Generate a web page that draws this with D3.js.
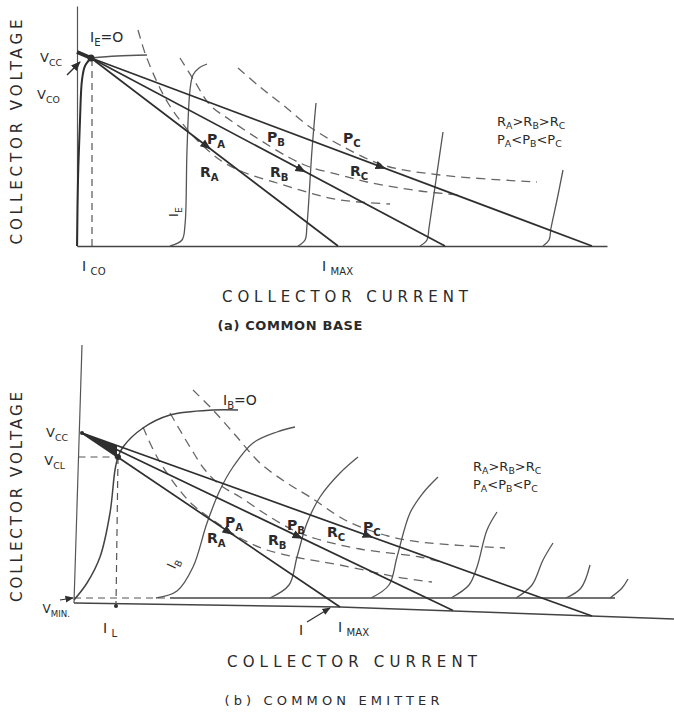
<!DOCTYPE html>
<html>
<head>
<meta charset="utf-8">
<script src="https://cdn.jsdelivr.net/npm/d3@7"></script>
<style>
  body { margin: 0; background: #fff; }
  svg { display: block; }
  text { font-family: "DejaVu Sans", sans-serif; fill: #2a2a2a; }
</style>
</head>
<body>
<svg id="chart" width="674" height="714"></svg>
<script>
// ---------- (a) common base : current / voltage in arbitrary units ----------
const aVcc = [0, 38.8]
const aKnee = [2.8, 37.6]
const aLoadEnds = [52.2, 73.6, 103]          // current at V = 0 for RA, RB, RC
const aIco = 3
const aIe0Curve = [[0, 0], [0.2, 13.2], [0.6, 25.2], [1, 33.2], [1.6, 36], [2.8, 37.6]]
const aIe0Top = [[2.8, 37.6], [8, 38], [14, 38.2]]
const aIeCurves = [
  [[18.6, 0], [21, 1.2], [21.6, 4.2], [22, 19.2], [22.6, 31.2], [23.2, 34.2], [24.4, 35.6], [26, 36.4]],
  [[44.2, 0], [45.6, 1.2], [46, 4.2], [47, 19.2], [47.8, 28.6]],
  [[68.6, 0], [70, 1.2], [70.4, 3.6], [71.8, 13.2], [73.2, 22.8]],
  [[93.2, 0], [94.4, 1.2], [94.8, 3.6], [96, 9.2], [97.2, 15.2]]
]
const aPowerCurves = [
  [[12.2, 43.2], [13.6, 38.6], [16, 32.8], [18.2, 28.6], [21, 24.6], [23.6, 21.6], [28.6, 17.2], [33.2, 14.8], [40, 12.6], [46.6, 10.6], [52.6, 9.2], [62.6, 8.4]],
  [[20.6, 37.6], [23.6, 32.8], [26.6, 28.2], [30.6, 25.2], [36.6, 21.2], [42.6, 17.6], [46.6, 15.8], [52.6, 14.2], [58, 12.8], [68.6, 11], [76.6, 10.2]],
  [[32.2, 35.6], [36.6, 31.8], [41.2, 28.2], [46.6, 23.8], [52.6, 20.2], [61.2, 16.2], [72.6, 14.2], [92, 12.8]]
]
const aArrowsAt = [25, 44, 60]               // current where the tangent marks sit

// ---------- (b) common emitter ----------
const bVcc = [1.6, 34]
const bVcl = [8.8, 29.2]
const bAxisTop = [1.6, 51.6]
const bBase = [[0, 0], [53.2, -0.8], [120, -3.2]]
const bVmin = 1
const bVminDashEnd = 19.2
const bVminEnd = 108.2
const bLoadEnds = [[53.2, -0.8], [75.8, -1.5], [103.6, -2.6]]
const bIL = [8.4, -0.6]
const bIb0Curve = [[0, 0.6], [2.6, 4], [5.2, 9.2], [7.2, 18], [8.2, 26.6], [8.8, 29.2], [9.8, 31.2], [13.8, 35], [19.2, 37.6], [27.8, 38.6], [32.8, 38.6]]
const bIbCurves = [
  [[16.4, 1], [20.6, 2.4], [23.8, 7.2], [26.6, 16], [29.2, 22.6], [31.8, 27.2], [35.8, 32], [40.6, 34.2], [44.2, 35.2]],
  [[39.2, 1], [43, 3.6], [44.6, 9.2], [46.6, 16], [49.2, 21.2], [53.2, 26], [56.8, 29.2]],
  [[59.4, 1], [63, 3.6], [64.6, 9.2], [67.2, 18], [69.8, 22], [72.8, 25.2]],
  [[75.4, 1], [79, 3.6], [80.6, 7.2], [82.6, 14.6], [84.6, 18.2]],
  [[88.4, 1], [91.6, 3.6], [93.8, 8.6], [95.8, 12]],
  [[98.4, 1], [101.4, 3], [103.2, 7.6]],
  [[107.2, 1], [109.6, 3], [110.8, 4.8]]
]
const bPowerCurves = [
  [[23.8, 42.6], [27.8, 38.6], [32.6, 33.2], [37.2, 28], [42.6, 24], [47.2, 21.2], [54.6, 16.4], [62.8, 13.4], [69.2, 12.2], [86.2, 11]],
  [[19.2, 38], [23.2, 31.2], [26.2, 26.6], [29.2, 23.6], [33.2, 21.2], [38.6, 17.6], [43.8, 14.6], [48.6, 12.8], [57.2, 10.8], [69.2, 9.2], [74.2, 8]],
  [[13.8, 35.2], [16.6, 29.2], [20.6, 23.2], [23.8, 19.6], [27.8, 16.6], [33.2, 13], [38.6, 10.6], [45.2, 9], [53.2, 7.6], [64.6, 5.2], [71.6, 4.2]]
]
const bArrowsAt = [30, 44, 58]

// legend / inline labels
const legendR = [["R", 0], ["A", 1], [">", 0], ["R", 0], ["B", 1], [">", 0], ["R", 0], ["C", 1]]
const legendP = [["P", 0], ["A", 1], ["<", 0], ["P", 0], ["B", 1], ["<", 0], ["P", 0], ["C", 1]]

const svg = d3.select("#chart")
const ink = "#2e2e2e"

svg.append("defs").append("marker")
  .attr("id", "arr").attr("viewBox", "0 0 10 10").attr("refX", 9).attr("refY", 5)
  .attr("markerWidth", 7).attr("markerHeight", 7).attr("orient", "auto")
  .append("path").attr("d", "M0,1 L10,5 L0,9 Z").attr("fill", ink)

const aX = d3.scaleLinear().domain([0, 106]).range([77, 607])
const aY = d3.scaleLinear().domain([0, 48]).range([246, 6])
const bX = d3.scaleLinear().domain([0, 120]).range([74, 674])
const bY = d3.scaleLinear().domain([0, 52]).range([603, 343])

function liner(sx, sy, curve) {
  return d3.line().x(d => sx(d[0])).y(d => sy(d[1])).curve(curve || d3.curveLinear)
}

// text with subscripts, parts = [[str, isSub], ...]
function rich(g, x, y, parts, size, opts) {
  opts = opts || {}
  const t = g.append("text").attr("x", x).attr("y", y)
    .attr("font-size", size)
    .attr("font-weight", opts.weight || 600)
    .attr("text-anchor", opts.anchor || "start")
  if (opts.rotate !== undefined) t.attr("transform", `rotate(${opts.rotate},${x},${y})`)
  const drop = opts.drop !== undefined ? opts.drop : size * 0.3
  let sub = false
  parts.forEach(p => {
    const s = t.append("tspan").text(p[0])
    if (p[1] && !sub) { s.attr("dy", drop).attr("font-size", size * 0.72); sub = true }
    else if (p[1]) s.attr("font-size", size * 0.72)
    else if (sub) { s.attr("dy", -drop); sub = false }
  })
  return t
}

function lineAt(p0, p1, x) {
  const t = (x - p0[0]) / (p1[0] - p0[0])
  return [x, p0[1] + t * (p1[1] - p0[1])]
}

function arrowMark(g, sx, sy, p0, p1, x) {
  const a = lineAt(p0, p1, x), b = lineAt(p0, p1, x + 1.6)
  g.append("line")
    .attr("x1", sx(a[0])).attr("y1", sy(a[1])).attr("x2", sx(b[0])).attr("y2", sy(b[1]))
    .attr("stroke", ink).attr("stroke-width", 1.5).attr("marker-end", "url(#arr)")
}

// =================== panel (a) ===================
const ga = svg.append("g")
const lnA = liner(aX, aY)
const smA = liner(aX, aY, d3.curveCatmullRom.alpha(0.5))

// axes
ga.append("g").attr("transform", `translate(${aX(0)},0)`)
  .call(d3.axisLeft(aY).tickValues([]).tickSizeOuter(0))
  .select(".domain").attr("stroke", "#555").attr("stroke-width", 1.2)
ga.append("g").attr("transform", `translate(0,${aY(0)})`)
  .call(d3.axisBottom(aX).tickValues([]).tickSizeOuter(0))
  .select(".domain").attr("stroke", "#444").attr("stroke-width", 1.5)

// power hyperbolas
aPowerCurves.forEach(c => {
  ga.append("path").attr("d", smA(c)).attr("fill", "none")
    .attr("stroke", "#666").attr("stroke-width", 1.3).attr("stroke-dasharray", "9,6")
})

// emitter current curves
aIeCurves.forEach(c => {
  ga.append("path").attr("d", smA(c)).attr("fill", "none")
    .attr("stroke", "#555").attr("stroke-width", 1.3)
})
ga.append("path").attr("d", smA(aIe0Curve)).attr("fill", "none").attr("stroke", ink).attr("stroke-width", 2)
ga.append("path").attr("d", smA(aIe0Top)).attr("fill", "none").attr("stroke", "#555").attr("stroke-width", 1.3)

// I_CO dashed
ga.append("path").attr("d", lnA([[aIco, aKnee[1] - 0.2], [aIco, 0]]))
  .attr("stroke", "#555").attr("stroke-width", 1.2).attr("stroke-dasharray", "7,5")

// load lines
aLoadEnds.forEach((e, i) => {
  ga.append("path").attr("d", lnA([aKnee, [e, 0]])).attr("fill", "none")
    .attr("stroke", ink).attr("stroke-width", 1.7)
  arrowMark(ga, aX, aY, aKnee, [e, 0], aArrowsAt[i])
})
ga.append("path").attr("d", lnA([aVcc, aKnee])).attr("stroke", ink).attr("stroke-width", 4)
ga.append("circle").attr("cx", aX(aKnee[0])).attr("cy", aY(aKnee[1])).attr("r", 3.5).attr("fill", ink)

// V_CO arrow
ga.append("line").attr("x1", aX(-2)).attr("y1", aY(34.2)).attr("x2", aX(0.6)).attr("y2", aY(36.8))
  .attr("stroke", ink).attr("stroke-width", 1.4).attr("marker-end", "url(#arr)")

// labels (a)
rich(ga, aX(-3), aY(36.8), [["V", 0], ["CC", 1]], 13, { anchor: "end", weight: 500 })
rich(ga, aX(-8), aY(29.4), [["V", 0], ["CO", 1]], 13, { anchor: "start", weight: 500 })
rich(ga, aX(2.6), aY(40.9), [["I", 0], ["E", 1], ["=O", 0]], 14, { weight: 500 })
rich(ga, aX(26), aY(20.4), [["P", 0], ["A", 1]], 14)
rich(ga, aX(24.6), aY(13.8), [["R", 0], ["A", 1]], 14)
rich(ga, aX(38), aY(20.8), [["P", 0], ["B", 1]], 14)
rich(ga, aX(38.6), aY(13.8), [["R", 0], ["B", 1]], 14)
rich(ga, aX(53.2), aY(20.6), [["P", 0], ["C", 1]], 14)
rich(ga, aX(54.6), aY(14), [["R", 0], ["C", 1]], 14)
rich(ga, aX(20.2), aY(6.8), [["I", 0], ["E", 1]], 13, { rotate: -90, anchor: "middle", weight: 500 })
rich(ga, aX(84), aY(24), legendR, 13, { weight: 500, drop: 3 })
rich(ga, aX(84), aY(20.4), legendP, 13, { weight: 500, drop: 3 })
rich(ga, aX(1), aY(-5), [["I ", 0], ["CO", 1]], 14, { weight: 500 })
rich(ga, aX(49), aY(-5), [["I ", 0], ["MAX", 1]], 14, { weight: 500 })

ga.append("text").attr("x", 17).attr("y", 132).attr("font-size", 15)
  .attr("text-anchor", "middle").attr("transform", "rotate(-90,17,132)")
  .attr("dy", "0.35em").attr("textLength", 225).attr("lengthAdjust", "spacing")
  .text("COLLECTOR VOLTAGE")
ga.append("text").attr("x", 345).attr("y", 302).attr("font-size", 15)
  .attr("text-anchor", "middle").attr("textLength", 246).attr("lengthAdjust", "spacing")
  .text("COLLECTOR CURRENT")
ga.append("text").attr("x", 290).attr("y", 330).attr("font-size", 13).attr("font-weight", 600)
  .attr("text-anchor", "middle").attr("textLength", 145).attr("lengthAdjust", "spacing")
  .text("(a) COMMON BASE")

// =================== panel (b) ===================
const gb = svg.append("g")
const lnB = liner(bX, bY)
const smB = liner(bX, bY, d3.curveCatmullRom.alpha(0.5))

// axes (drawn by hand on the original, slightly skewed)
gb.append("path").attr("d", lnB([[0, 0], bAxisTop])).attr("stroke", "#555").attr("stroke-width", 1.2)
gb.append("path").attr("d", lnB(bBase)).attr("fill", "none").attr("stroke", "#444").attr("stroke-width", 1.5)

// V_MIN saturation line
gb.append("path").attr("d", lnB([[0, bVmin], [bVminDashEnd, bVmin]]))
  .attr("stroke", "#555").attr("stroke-width", 1.2).attr("stroke-dasharray", "7,5")
gb.append("path").attr("d", lnB([[bVminDashEnd, bVmin], [bVminEnd, bVmin]]))
  .attr("stroke", "#444").attr("stroke-width", 1.6)

// power hyperbolas
bPowerCurves.forEach(c => {
  gb.append("path").attr("d", smB(c)).attr("fill", "none")
    .attr("stroke", "#666").attr("stroke-width", 1.3).attr("stroke-dasharray", "9,6")
})

// base current curves
bIbCurves.forEach(c => {
  gb.append("path").attr("d", smB(c)).attr("fill", "none")
    .attr("stroke", "#555").attr("stroke-width", 1.3)
})
gb.append("path").attr("d", smB(bIb0Curve)).attr("fill", "none").attr("stroke", "#444").attr("stroke-width", 1.5)

// V_CL / I_L dashed
gb.append("path").attr("d", lnB([[0.9, bVcl[1]], bVcl]))
  .attr("stroke", "#555").attr("stroke-width", 1.2).attr("stroke-dasharray", "7,5")
gb.append("path").attr("d", lnB([bVcl, bIL]))
  .attr("stroke", "#555").attr("stroke-width", 1.2).attr("stroke-dasharray", "7,5")

// load lines
bLoadEnds.forEach((e, i) => {
  gb.append("path").attr("d", lnB([bVcc, e])).attr("fill", "none")
    .attr("stroke", ink).attr("stroke-width", 1.7)
  arrowMark(gb, bX, bY, bVcc, e, bArrowsAt[i])
})
gb.append("path")
  .attr("d", lnB([bVcc, lineAt(bVcc, bLoadEnds[0], 8.6), lineAt(bVcc, bLoadEnds[2], 8.6)]) + "Z")
  .attr("fill", ink)
gb.append("circle").attr("cx", bX(bVcl[0])).attr("cy", bY(bVcl[1])).attr("r", 3).attr("fill", ink)
gb.append("circle").attr("cx", bX(bVcc[0])).attr("cy", bY(bVcc[1])).attr("r", 2).attr("fill", ink)
gb.append("circle").attr("cx", bX(bIL[0])).attr("cy", bY(bIL[1])).attr("r", 2).attr("fill", ink)

// small pointer arrows
gb.append("line").attr("x1", bX(-2.8)).attr("y1", bY(0.6)).attr("x2", bX(-0.2)).attr("y2", bY(1))
  .attr("stroke", ink).attr("stroke-width", 1.2).attr("marker-end", "url(#arr)")
gb.append("line").attr("x1", bX(46.6)).attr("y1", bY(-3.8)).attr("x2", bX(51.2)).attr("y2", bY(-1))
  .attr("stroke", ink).attr("stroke-width", 1.2).attr("marker-end", "url(#arr)")

// labels (b)
rich(gb, bX(-1.2), bY(33.2), [["V", 0], ["CC", 1]], 13, { anchor: "end", weight: 500 })
rich(gb, bX(-1.8), bY(27.6), [["V", 0], ["CL", 1]], 13, { anchor: "end", weight: 500 })
rich(gb, bX(-0.8), bY(-2), [["V", 0], ["MIN.", 1]], 12, { anchor: "end", weight: 500 })
rich(gb, bX(5.8), bY(-6), [["I ", 0], ["L", 1]], 14, { weight: 500 })
rich(gb, bX(45), bY(-6.4), [["I", 0]], 14, { weight: 500 })
rich(gb, bX(52.8), bY(-5.8), [["I ", 0], ["MAX", 1]], 14, { weight: 500 })
rich(gb, bX(29.8), bY(39.6), [["I", 0], ["B", 1], ["=O", 0]], 14, { weight: 500 })
rich(gb, bX(30.2), bY(15.2), [["P", 0], ["A", 1]], 14)
rich(gb, bX(26.6), bY(12), [["R", 0], ["A", 1]], 14)
rich(gb, bX(42.6), bY(14.6), [["P", 0], ["B", 1]], 14)
rich(gb, bX(38.8), bY(11.6), [["R", 0], ["B", 1]], 14)
rich(gb, bX(50.6), bY(13.2), [["R", 0], ["C", 1]], 14)
rich(gb, bX(57.8), bY(14.2), [["P", 0], ["C", 1]], 14)
rich(gb, bX(20.6), bY(7.6), [["I", 0], ["B", 1]], 13, { rotate: -65, anchor: "middle", weight: 500 })
rich(gb, bX(79.8), bY(26.4), legendR, 13, { weight: 500, drop: 3 })
rich(gb, bX(79.8), bY(22.8), legendP, 13, { weight: 500, drop: 3 })

gb.append("text").attr("x", 17).attr("y", 497).attr("font-size", 15)
  .attr("text-anchor", "middle").attr("transform", "rotate(-90,17,497)")
  .attr("dy", "0.35em").attr("textLength", 210).attr("lengthAdjust", "spacing")
  .text("COLLECTOR VOLTAGE")
gb.append("text").attr("x", 352).attr("y", 667).attr("font-size", 15)
  .attr("text-anchor", "middle").attr("textLength", 250).attr("lengthAdjust", "spacing")
  .text("COLLECTOR CURRENT")
gb.append("text").attr("x", 332).attr("y", 705).attr("font-size", 13)
  .attr("text-anchor", "middle").attr("textLength", 215).attr("lengthAdjust", "spacing")
  .text("(b) COMMON EMITTER")
</script>
</body>
</html>
